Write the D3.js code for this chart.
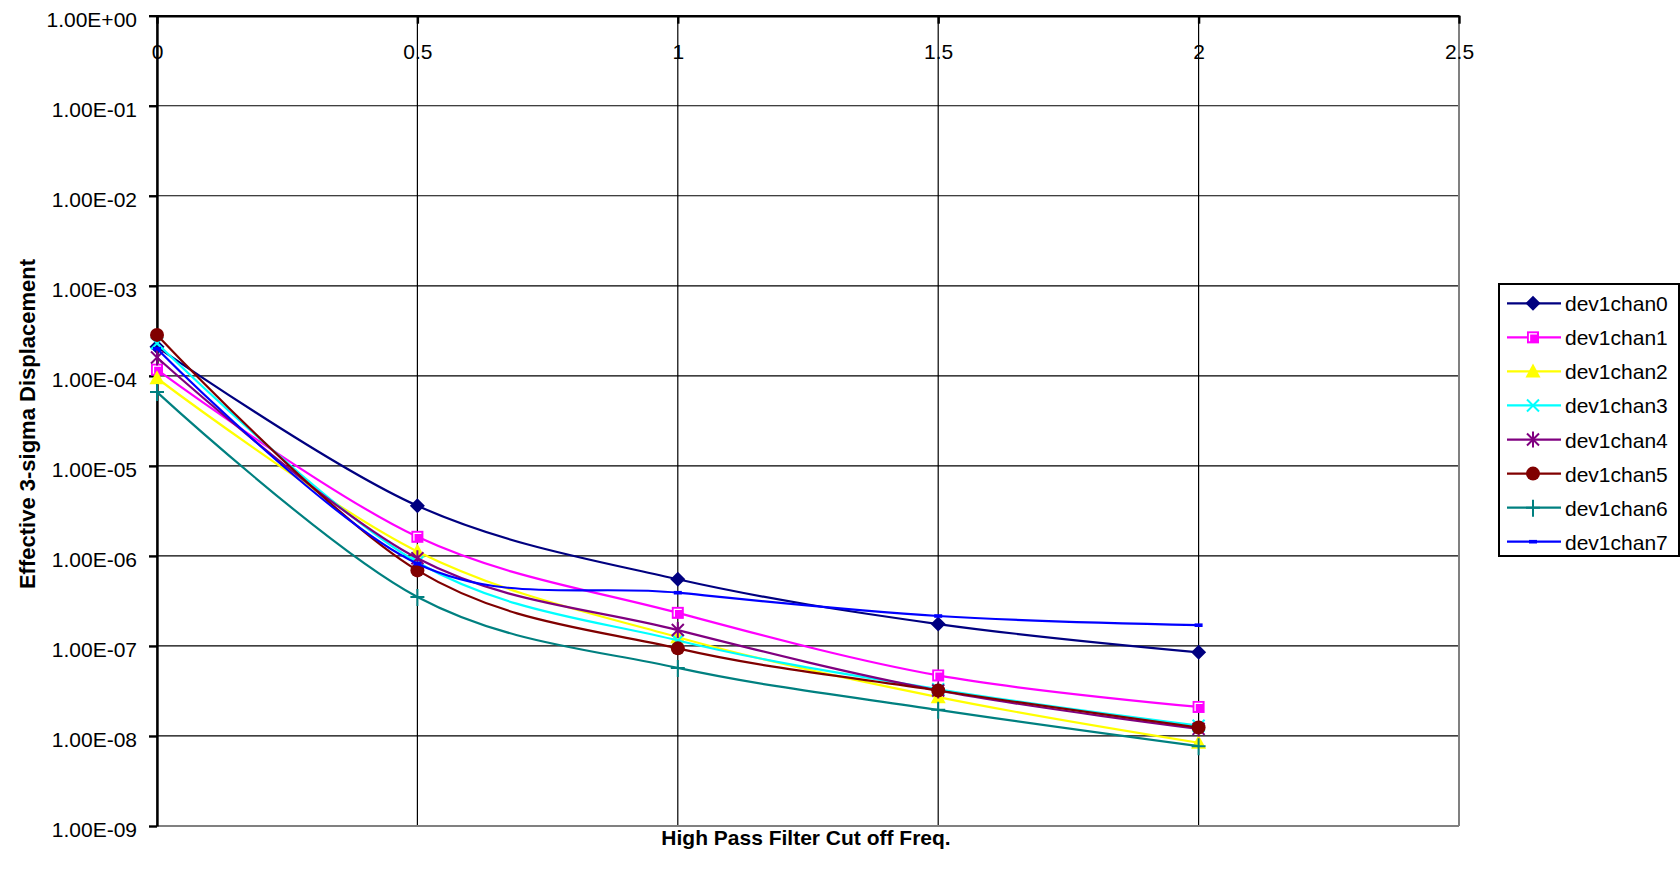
<!DOCTYPE html>
<html>
<head>
<meta charset="utf-8">
<script src="https://cdn.jsdelivr.net/npm/d3@7"></script>
<style>
  html, body { margin: 0; padding: 0; background: #fff; }
  svg { display: block; font-family: "Liberation Sans", Arial, sans-serif; }
</style>
</head>
<body>
<script>
// ---- data ----
const freqs = [0, 0.5, 1, 1.5, 2];
const xTicks = [0, 0.5, 1, 1.5, 2, 2.5];
const xTickLabels = ["0", "0.5", "1", "1.5", "2", "2.5"];
const yTicks = [1, 1e-1, 1e-2, 1e-3, 1e-4, 1e-5, 1e-6, 1e-7, 1e-8, 1e-9];
const yTickLabels = ["1.00E+00", "1.00E-01", "1.00E-02", "1.00E-03", "1.00E-04", "1.00E-05", "1.00E-06", "1.00E-07", "1.00E-08", "1.00E-09"];
const seriesNames = ["dev1chan0", "dev1chan1", "dev1chan2", "dev1chan3", "dev1chan4", "dev1chan5", "dev1chan6", "dev1chan7"];
const dev1chan0 = [2.1e-4, 3.6e-6, 5.5e-7, 1.75e-7, 8.5e-8];
const dev1chan1 = [1.17e-4, 1.63e-6, 2.33e-7, 4.7e-8, 2.1e-8];
const dev1chan2 = [9.4e-5, 1.12e-6, 1.25e-7, 2.7e-8, 8.4e-9];
const dev1chan3 = [2.3e-4, 8.5e-7, 1.15e-7, 3.3e-8, 1.3e-8];
const dev1chan4 = [1.6e-4, 9.4e-7, 1.5e-7, 3.2e-8, 1.2e-8];
const dev1chan5 = [2.85e-4, 6.9e-7, 9.4e-8, 3.2e-8, 1.24e-8];
const dev1chan6 = [6.6e-5, 3.5e-7, 5.7e-8, 1.95e-8, 7.7e-9];
const dev1chan7 = [2.0e-4, 8.2e-7, 3.9e-7, 2.15e-7, 1.7e-7];
const seriesValues = [dev1chan0, dev1chan1, dev1chan2, dev1chan3, dev1chan4, dev1chan5, dev1chan6, dev1chan7];
const colors = ["#000080", "#FF00FF", "#FFFF00", "#00FFFF", "#800080", "#800000", "#008080", "#0000FF"];
const markers = ["diamond", "square", "triangle", "x", "star", "circle", "plus", "dash"];

// ---- layout ----
const W = 1680, H = 879;
const L = 157, R = 1459, T = 15.7, B = 826;

const svg = d3.select("body").append("svg").attr("width", W).attr("height", H);

const x = d3.scaleLinear().domain([0, 2.5]).range([L, R]);
const y = d3.scaleLog().domain([1e-9, 1]).range([B, T]);

// gridlines
const grid = svg.append("g");
grid.selectAll("line.h").data(yTicks).join("line")
  .attr("x1", L).attr("x2", R).attr("y1", d => y(d)).attr("y2", d => y(d))
  .attr("stroke", "#000").attr("stroke-width", 1.2);
grid.selectAll("line.v").data(xTicks.slice(0, -1)).join("line")
  .attr("y1", T).attr("y2", B).attr("x1", d => x(d)).attr("x2", d => x(d))
  .attr("stroke", "#000").attr("stroke-width", 1.2);

// plot border right/bottom gray
svg.append("line").attr("x1", R).attr("x2", R).attr("y1", T).attr("y2", B).attr("stroke", "#808080").attr("stroke-width", 2);
svg.append("line").attr("x1", L).attr("x2", R).attr("y1", B).attr("y2", B).attr("stroke", "#808080").attr("stroke-width", 2.2);

// X axis on top (crosses at 1e0), ticks pointing down inside
const xAxis = d3.axisTop(x).tickValues(xTicks).tickSizeInner(-8).tickSizeOuter(0).tickFormat((d, i) => xTickLabels[i]);
const gx = svg.append("g").attr("transform", `translate(0,${T})`).call(xAxis);
gx.select(".domain").attr("stroke", "#000").attr("stroke-width", 2.4);
gx.selectAll(".tick line").attr("stroke", "#000").attr("stroke-width", 2.4);
gx.selectAll(".tick text").attr("y", 43).attr("dy", 0).attr("fill", "#000")
  .attr("font-size", 21).attr("font-family", "'Liberation Sans', Arial, sans-serif").attr("text-anchor", "middle");

// Y axis on left
const yAxis = d3.axisLeft(y).tickValues(yTicks).tickSizeInner(8).tickSizeOuter(0).tickFormat((d, i) => yTickLabels[i]);
const gy = svg.append("g").attr("transform", `translate(${L},0)`).call(yAxis);
gy.select(".domain").attr("stroke", "#000").attr("stroke-width", 2.4);
gy.selectAll(".tick line").attr("stroke", "#000").attr("stroke-width", 2.4);
gy.selectAll(".tick text").attr("x", -20).attr("dy", 10.5).attr("fill", "#000")
  .attr("font-size", 21).attr("font-family", "'Liberation Sans', Arial, sans-serif");

// marker drawing
function drawMarker(g, type, color, cx, cy) {
  const m = g.append("g").attr("transform", `translate(${cx},${cy})`);
  switch (type) {
    case "diamond":
      m.append("path").attr("d", "M0,-7.5L7.5,0L0,7.5L-7.5,0Z").attr("fill", color);
      break;
    case "square":
      m.append("rect").attr("x", -6).attr("y", -6).attr("width", 12).attr("height", 12).attr("fill", color);
      m.append("path").attr("d", "M-3.5,4V-3.5H4").attr("fill", "none").attr("stroke", "#fff").attr("stroke-width", 1.3);
      break;
    case "triangle":
      m.append("path").attr("d", "M0,-8L7.5,6L-7.5,6Z").attr("fill", color);
      break;
    case "x":
      m.append("path").attr("d", "M-6,-6L6,6M-6,6L6,-6").attr("stroke", color).attr("stroke-width", 2).attr("fill", "none");
      break;
    case "star":
      m.append("path").attr("d", "M-6,-6L6,6M-6,6L6,-6M0,-8V8").attr("stroke", color).attr("stroke-width", 2).attr("fill", "none");
      break;
    case "circle":
      m.append("circle").attr("r", 7).attr("fill", color);
      break;
    case "plus":
      m.append("path").attr("d", "M-7,0H7M0,-8V9").attr("stroke", color).attr("stroke-width", 2).attr("fill", "none");
      break;
    case "dash":
      m.append("rect").attr("x", -4).attr("y", -1.8).attr("width", 8).attr("height", 3.6).attr("fill", color);
      break;
  }
}

// series (Excel-style smoothing ~ uniform Catmull-Rom)
const line = d3.line().x(d => x(d[0])).y(d => y(d[1])).curve(d3.curveCatmullRom.alpha(0));
const plot = svg.append("g");
seriesValues.forEach((vals, i) => {
  const pts = freqs.map((f, j) => [f, vals[j]]);
  const g = plot.append("g");
  g.append("path").attr("d", line(pts)).attr("fill", "none").attr("stroke", colors[i]).attr("stroke-width", 2.2);
  pts.forEach(p => drawMarker(g, markers[i], colors[i], x(p[0]), y(p[1])));
});

// legend
const lg = svg.append("g");
lg.append("rect").attr("x", 1499).attr("y", 284).attr("width", 180).attr("height", 272)
  .attr("fill", "#fff").attr("stroke", "#000").attr("stroke-width", 2);
const legY = d3.scaleLinear().domain([0, 7]).range([303.3, 541.7]);
seriesNames.forEach((name, i) => {
  const yy = legY(i);
  lg.append("line").attr("x1", 1507).attr("x2", 1561).attr("y1", yy).attr("y2", yy)
    .attr("stroke", colors[i]).attr("stroke-width", 2.2);
  drawMarker(lg, markers[i], colors[i], 1533, yy);
  lg.append("text").attr("x", 1565).attr("y", yy).attr("dy", 8).attr("font-size", 21).attr("fill", "#000").text(name);
});

// axis titles
svg.append("text").attr("x", 806).attr("y", 845).attr("text-anchor", "middle")
  .attr("font-size", 21).attr("font-weight", "bold").attr("fill", "#000").text("High Pass Filter Cut off Freq.");
svg.append("text").attr("transform", "translate(35,424) rotate(-90)").attr("text-anchor", "middle")
  .attr("font-size", 22).attr("font-weight", "bold").attr("fill", "#000").text("Effective 3-sigma Displacement");
</script>
</body>
</html>
